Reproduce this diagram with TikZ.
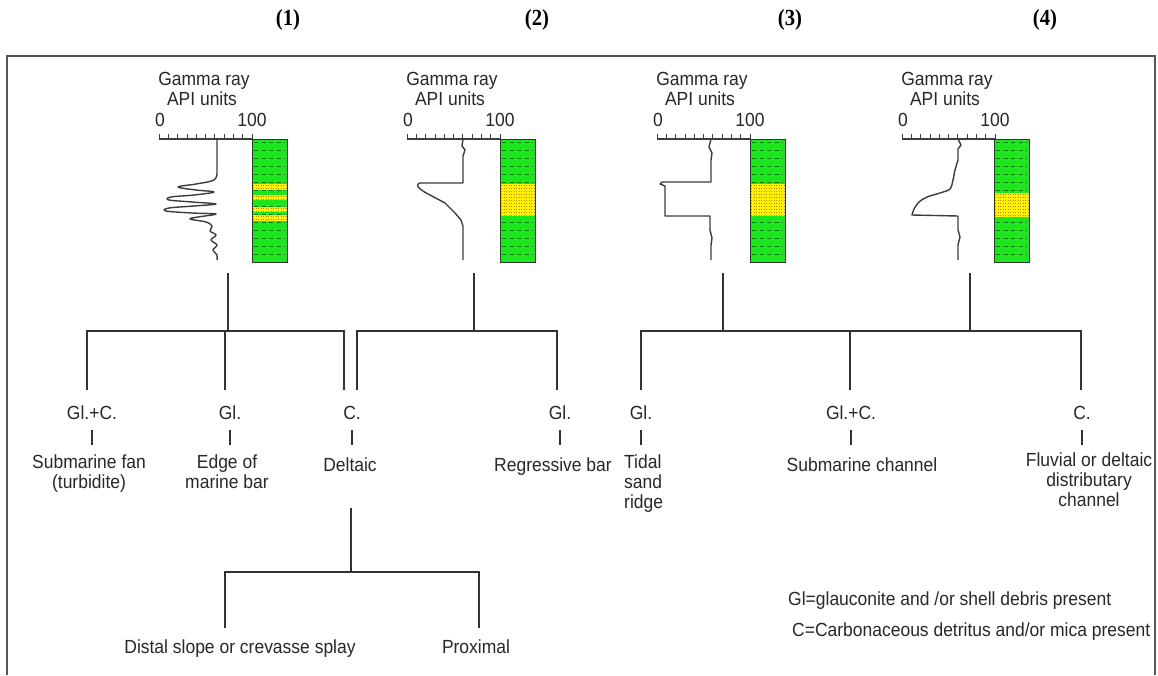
\documentclass[tikz,border=0pt]{standalone}
\usepackage{fontspec}
\setmainfont[FakeStretch=0.92]{Liberation Sans}
\newfontfamily\titlefont[FakeStretch=0.9]{Liberation Serif}
\definecolor{colgreen}{RGB}{30,230,30}
\definecolor{dashgreen}{RGB}{20,120,20}
\definecolor{bandyellow}{RGB}{255,240,0}
\definecolor{dotcol}{RGB}{190,140,0}
\definecolor{ink}{RGB}{40,40,40}
\definecolor{treecol}{RGB}{50,50,50}
\definecolor{curvecol}{RGB}{60,60,60}
\definecolor{framecol}{RGB}{85,85,85}
\newcommand{\logcolumn}[2]{%
  \fill[colgreen] (#1,139) rectangle ++(35,123);
  \foreach \yy in {142,150,...,258} {\draw[gdash] (#1+2,\yy) -- (#1+33,\yy);}
  \foreach \ya/\yb in {#2} {%
    \fill[bandyellow] (#1,\ya) rectangle (#1+35,\yb);
    \pgfmathsetmacro{\nrows}{int((\yb-\ya-1)/3)}
    \foreach \k in {0,...,\nrows} {\pgfmathsetmacro{\yd}{\ya+1.5+3*\k}
      \draw[ydot] (#1+1,\yd) -- (#1+34,\yd);}
  }%
  \draw[colframe] (#1,139) rectangle ++(35,123);
}
\newcommand{\grpanel}[4]{%
  \node[lab] (gr#3) at (#1+45,79) {Gamma ray};
  \node[lab] (api#3) at (#1+43,99) {API units};
  \node[lab] (z#3) at (#1+1,120) {0};
  \node[lab] (h#3) at (#1+93,120) {100};
  \draw[axisline] (#1,139) -- (#1+93,139);
  \foreach \k in {0,...,10} {\draw[axistick] (#1+9.3*\k,139) -- (#1+9.3*\k,134);}
  \logcolumn{#2}{#4}
}
\begin{document}
\begin{tikzpicture}[x=1pt,y=-1pt,
  font=\fontsize{19}{20}\selectfont, text=ink,
  lab/.style={inner sep=0pt, text height=13.6pt, text depth=0pt},
  desc/.style={inner sep=0pt, align=center, anchor=north},
  tree/.style={draw=treecol, line width=1.6pt},
  tick/.style={tree, shorten <=10.2pt, shorten >=10.5pt},
  logline/.style={draw=curvecol, line width=1.4pt, line join=round},
  gdash/.style={draw=dashgreen, line width=1pt, dash pattern=on 4pt off 3.5pt},
  ydot/.style={draw=dotcol, line width=0.9pt, dash pattern=on 0.9pt off 1.6pt},
  colframe/.style={draw=black!80, line width=0.8pt},
  axisline/.style={draw=curvecol, line width=1.2pt},
  axistick/.style={draw=curvecol, line width=0.7pt},
  frame/.style={draw=framecol, line width=2.5pt},
  ttl/.style={font=\titlefont\bfseries\fontsize{23}{24}\selectfont, text=black}]
\useasboundingbox (0,0) rectangle (1158,675);
\fill[white] (0,0) rectangle (1158,675);
% titles
\node[ttl] (t1) at (288,20) {(1)};
\node[ttl] (t2) at (537,20) {(2)};
\node[ttl] (t3) at (790,20) {(3)};
\node[ttl] (t4) at (1045,20) {(4)};
% frame
\draw[frame] (7,675) -- (7,56) -- (1155,56) -- (1155,675);
% panels
\grpanel{159}{252}{a}{184/189.5, 195/200, 206.5/212, 215/220.5}
\grpanel{407}{500}{b}{184/216}
\grpanel{657}{750}{c}{184/216}
\grpanel{902}{994}{d}{193/217}
% curves
\draw[logline] (217,139) -- (217,172) -- plot[smooth, tension=0.6] coordinates {(217,172) (214,180) (196,184) (178,187) (196,190) (214,192) (194,195) (171,197) (169,200) (192,202) (216,204) (194,206) (169,208) (166,211) (192,213) (216,214) (198,217) (190,219) (206,222) (212,226) (210,231) (216,235) (211,240) (217,245) (213,250) (217,255) (217,260)};
\draw[logline] (463,139) -- (462,146) -- (465,150) -- (463,156) -- (463,183) -- (420,183) .. controls (414,185) and (420,190) .. (430,195) -- (445,203) -- (455,213) -- (461,220) -- (463,226) -- (463,260);
\draw[logline] (711,139) -- (709,147) -- (712,153) -- (711,160) -- (711,182) -- (662,182) -- (660,184) -- (665,186) -- (665,216) -- (710,216) -- (710,230) -- (712,238) -- (711,245) -- (711,260);
\draw[logline] (958,139) -- (961,145) -- (958,149) -- (958,160) -- plot[smooth] coordinates {(958,160) (955,170) (953,180) (950,189) (940,193) (927,197) (919,202) (914,209) (912,215)} -- (958,216) -- (958,230) -- (960,237) -- (958,245) -- (958,260);
% tree coordinates
\coordinate (p1s) at (228,273); \coordinate (p1j) at (228,331);
\coordinate (c1a) at (87,390); \coordinate (b1a) at (87,331);
\coordinate (b1c) at (344,331); \coordinate (c1c) at (344,390);
\coordinate (b1b) at (225,331); \coordinate (c1b) at (225,390);
\coordinate (p2s) at (474,273); \coordinate (p2j) at (474,331);
\coordinate (c2a) at (357,390); \coordinate (b2a) at (357,331);
\coordinate (b2b) at (557,331); \coordinate (c2b) at (557,390);
\coordinate (p3s) at (723,273); \coordinate (p3j) at (723,331);
\coordinate (p4s) at (970,273); \coordinate (p4j) at (970,331);
\coordinate (c3a) at (641,390); \coordinate (b3a) at (641,331);
\coordinate (b3c) at (1081,331); \coordinate (c3c) at (1081,390);
\coordinate (b3b) at (850,331); \coordinate (c3b) at (850,390);
\coordinate (d0s) at (351,508); \coordinate (d0j) at (351,572);
\coordinate (c5a) at (225,628); \coordinate (b5a) at (225,572);
\coordinate (b5b) at (479,572); \coordinate (c5b) at (479,628);
% tree lines
\draw[tree] (p1s) -- (p1j);
\draw[tree] (c1a) -- (b1a) -- (b1c) -- (c1c);
\draw[tree] (b1b) -- (c1b);
\draw[tree] (p2s) -- (p2j);
\draw[tree] (c2a) -- (b2a) -- (b2b) -- (c2b);
\draw[tree] (p3s) -- (p3j);
\draw[tree] (p4s) -- (p4j);
\draw[tree] (c3a) -- (b3a) -- (b3c) -- (c3c);
\draw[tree] (b3b) -- (c3b);
\draw[tree] (d0s) -- (d0j);
\draw[tree] (c5a) -- (b5a) -- (b5b) -- (c5b);
% labels
\node[lab] (l1a) at (92,413) {Gl.+C.};
\node[lab] (l1b) at (230,413) {Gl.};
\node[lab] (l1c) at (352,413) {C.};
\node[lab] (l2b) at (560,413) {Gl.};
\node[lab] (l3a) at (641,413) {Gl.};
\node[lab] (l3b) at (851,413) {Gl.+C.};
\node[lab] (l3c) at (1082,413) {C.};
% descriptions
\node[desc] (d1a) at (89,455) {Submarine fan\\(turbidite)};
\node[desc] (d1b) at (227,455) {Edge of\\marine bar};
\node[desc] (d1c) at (350,458) {Deltaic};
\node[desc] (d2b) at (553,458) {Regressive bar};
\node[desc, anchor=north west, align=left] (d3a) at (624,455) {Tidal\\sand\\ridge};
\node[desc] (d3b) at (862,458) {Submarine channel};
\node[desc] (d3c) at (1089,453) {Fluvial or deltaic\\distributary\\channel};
% ticks
\draw[tick] (l1a.south) -- (l1a.south |- d1a.north);
\draw[tick] (l1b.south) -- (l1b.south |- d1b.north);
\draw[tick, shorten >=13pt] (l1c.south) -- (l1c.south |- d1c.north);
\draw[tick, shorten >=13pt] (l2b.south) -- (l2b.south |- d2b.north);
\draw[tick] (l3a.south) -- (l3a.south |- d3a.north);
\draw[tick, shorten >=13pt] (l3b.south) -- (l3b.south |- d3b.north);
\draw[tick, shorten >=8.5pt] (l3c.south) -- (l3c.south |- d3c.north);
% deltaic sub-branches
\node[lab] (e1) at (240,647) {Distal slope or crevasse splay};
\node[lab] (e2) at (476,647) {Proximal};
% legend
\node[lab, anchor=west] (g1) at (788,599) {Gl=glauconite and /or shell debris present};
\node[lab, anchor=west] (g2) at (792,630) {C=Carbonaceous detritus and/or mica present};
\end{tikzpicture}
\end{document}
